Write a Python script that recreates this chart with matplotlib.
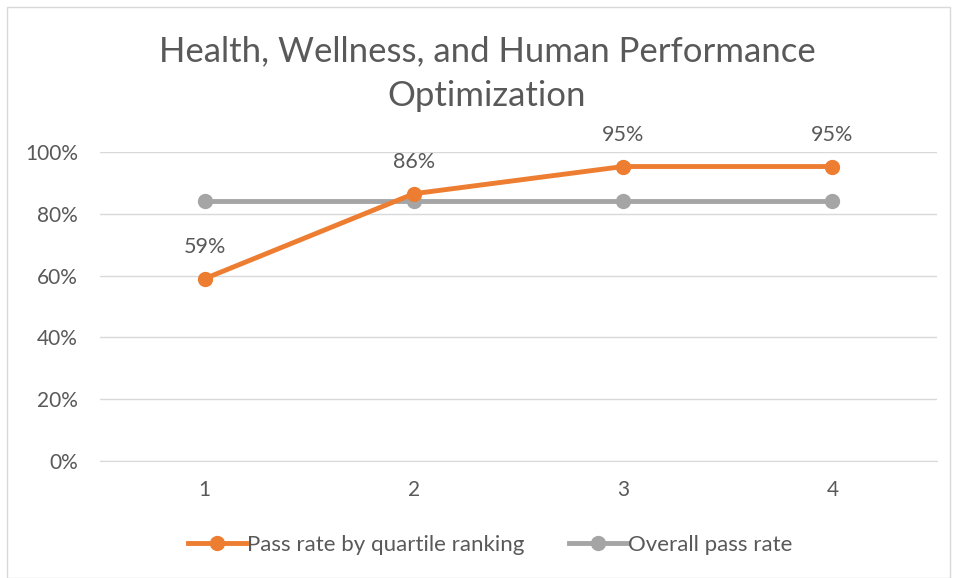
import numpy as np
import matplotlib.pyplot as plt
from matplotlib.patches import Rectangle
from matplotlib.ticker import PercentFormatter

plt.rcParams['font.family'] = ['Lato', 'DejaVu Sans']

# data
quartiles = ['1', '2', '3', '4']
pass_rate_quartile = [0.59, 0.865, 0.953, 0.953]
overall_pass_rate = [0.84, 0.84, 0.84, 0.84]
quartile_labels = ['59%', '86%', '95%', '95%']

orange = '#ED7D31'
gray = '#A5A5A5'
text_col = '#595959'

fig = plt.figure(figsize=(9.57, 5.78), dpi=100)
ax = fig.add_axes([100 / 957, 117 / 578, 837 / 957, 309 / 578])

x = np.arange(1, len(quartiles) + 1)

ax.plot(x, pass_rate_quartile, color=orange, lw=3.5, marker='o', ms=10,
        label='Pass rate by quartile ranking', clip_on=False, zorder=3)
ax.plot(x, overall_pass_rate, color=gray, lw=3.5, marker='o', ms=10,
        label='Overall pass rate', clip_on=False, zorder=2)

for xi, yi, lab in zip(x, pass_rate_quartile, quartile_labels):
    ax.annotate(lab, (xi, yi), xytext=(0, 23), textcoords='offset points',
                ha='center', va='center', fontsize=15.5, color=text_col)

ax.set_xlim(0.5, 4.5)
ax.set_ylim(0, 1)
ax.set_xticks(x)
ax.set_xticklabels(quartiles)
ax.set_yticks(np.arange(0, 1.01, 0.2))
ax.yaxis.set_major_formatter(PercentFormatter(1.0, decimals=0))
ax.grid(axis='y', color='#D9D9D9', lw=1)
ax.set_axisbelow(True)
for s in ['top', 'right', 'left']:
    ax.spines[s].set_visible(False)
ax.spines['bottom'].set_color('#D9D9D9')
ax.tick_params(axis='both', length=0, labelsize=15, colors=text_col)
ax.tick_params(axis='x', pad=14)
ax.tick_params(axis='y', pad=16)

fig.text(487 / 957, 1 - 74 / 578, 'Health, Wellness, and Human Performance\nOptimization',
         ha='center', va='center', fontsize=25, color=text_col, linespacing=1.5)

leg = fig.legend(loc='center', bbox_to_anchor=(490 / 957, 1 - 545 / 578), ncol=2,
                 frameon=False, fontsize=16, handlelength=2.6, handletextpad=0.05,
                 columnspacing=2.0)
for t in leg.get_texts():
    t.set_color(text_col)

fig.patches.append(Rectangle((7 / 957, 0), 943 / 957, 571 / 578, transform=fig.transFigure,
                             fill=False, edgecolor='#D9D9D9', lw=1))

fig.savefig('out.png', dpi=100)
